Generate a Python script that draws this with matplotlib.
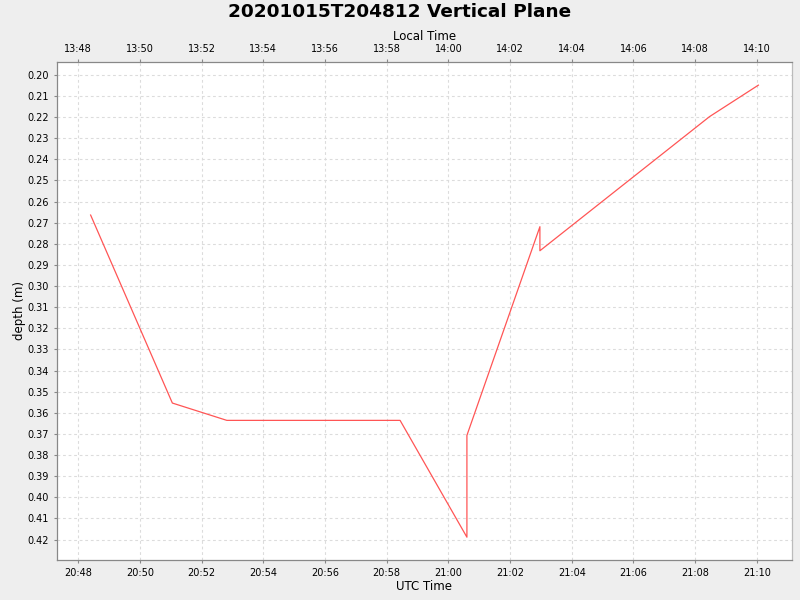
import datetime as dt
import matplotlib
matplotlib.use("Agg")
import matplotlib.pyplot as plt
import matplotlib.dates as mdates
from matplotlib.ticker import FuncFormatter, MultipleLocator

# --------------------------------------------
# Data (UTC)
# --------------------------------------------

times_utc = ["20:48:24", "20:51:03", "20:52:49", "20:58:26", "21:00:36",
             "21:00:36", "21:02:58", "21:02:58", "21:08:28", "21:10:03"]
depth_m = [0.2664, 0.3554, 0.3636, 0.3636, 0.4189,
           0.3707, 0.2719, 0.2833, 0.2198, 0.2049]

day = "2020-10-15"
local_offset_h = -7
title = "20201015T204812 Vertical Plane"

x_lo, x_hi = "20:47:18", "21:11:09"
y_top, y_bottom = 0.1938, 0.4297


def to_dt(s):
    return dt.datetime.strptime(day + " " + s, "%Y-%m-%d %H:%M:%S")


t = [to_dt(s) for s in times_utc]

fig = plt.figure(figsize=(8, 6), dpi=100, facecolor="#eeeeee")
ax = fig.add_axes([56.7 / 800, 40 / 600, (792.3 - 56.7) / 800, (560.3 - 62) / 600])
ax.set_facecolor("white")

ax.plot(t, depth_m, color="#ff5555", lw=0.9)

ax.set_xlim(to_dt(x_lo), to_dt(x_hi))
ax.set_ylim(y_bottom, y_top)

ax.xaxis.set_major_locator(mdates.MinuteLocator(byminute=range(0, 60, 2)))
ax.xaxis.set_major_formatter(mdates.DateFormatter("%H:%M"))
ax.yaxis.set_major_locator(MultipleLocator(0.01))
ax.yaxis.set_major_formatter(FuncFormatter(lambda v, p: f"{v:.2f}"))

ax.grid(True, color="#dcdcdc", ls=(0, (2.5, 2.5)), lw=0.8)

for s in ax.spines.values():
    s.set_color("#888888")
    s.set_linewidth(0.9)
ax.spines["right"].set_color("#bbbbbb")

ax.tick_params(axis="both", labelsize=7, length=2.5, color="#888888", pad=3)
ax.set_xlabel("UTC Time", fontsize=8.5, labelpad=2)
ax.set_ylabel("depth (m)", fontsize=8.5, labelpad=1)

# top axis: local time
ax2 = ax.twiny()
ax2.set_xlim(ax.get_xlim())
ax2.xaxis.set_major_locator(mdates.MinuteLocator(byminute=range(0, 60, 2)))
ax2.xaxis.set_major_formatter(FuncFormatter(
    lambda v, p: (mdates.num2date(v) + dt.timedelta(hours=local_offset_h)).strftime("%H:%M")))
ax2.tick_params(axis="x", labelsize=7, length=2.5, color="#888888", pad=3)
ax2.set_xlabel("Local Time", fontsize=8.5, labelpad=3)
for s in ax2.spines.values():
    s.set_visible(False)

fig.text(0.5, 1 - 12 / 600, title, ha="center", va="center",
         fontsize=13.3, fontweight="bold")

fig.savefig("out.png", dpi=100, facecolor=fig.get_facecolor())
